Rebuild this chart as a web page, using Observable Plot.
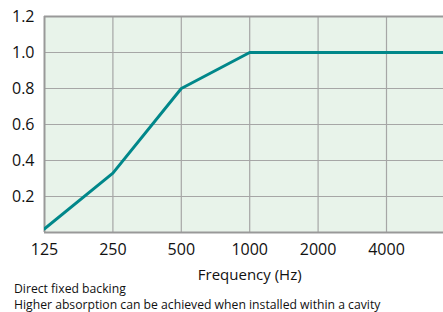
<!DOCTYPE html>
<html>
<head>
<meta charset="utf-8">
<script src="https://cdn.jsdelivr.net/npm/d3@7"></script>
<script src="https://cdn.jsdelivr.net/npm/@observablehq/plot@0.6"></script>
<style>
  html, body { margin: 0; padding: 0; background: white; }
  body { width: 443px; font-family: "Open Sans", sans-serif; }
  #chart svg { display: block; }
  #caption { font-size: 12.2px; line-height: 14px; color: #111; margin-left: 14px; margin-top: -7px; }
  #caption div + div { margin-top: 2px; }
</style>
</head>
<body>
<div id="chart"></div>
<div id="caption">
  <div>Direct fixed backing</div>
  <div>Higher absorption can be achieved when installed within a cavity</div>
</div>
<script>
const frequencies = ["125", "250", "500", "1000", "2000", "4000", "8000"];
const absorption = [0.02, 0.33, 0.80, 1.00, 1.00, 1.00, 1.00];
const yTicks = [0.2, 0.4, 0.6, 0.8, 1.0, 1.2];
const xLabel = "Frequency (Hz)";

const data = frequencies.map((f, i) => ({i, f, v: absorption[i]}));
const idx = frequencies.map((f, i) => i);

const width = 443, marginLeft = 44, step = 68.4;
const xMax = (width - marginLeft) / step;

const chart = Plot.plot({
  width,
  height: 289,
  marginLeft,
  marginRight: 0,
  marginTop: 16,
  marginBottom: 57,
  style: {fontFamily: "Open Sans, sans-serif", fontSize: "15px", color: "#111", overflow: "hidden"},
  x: {type: "linear", domain: [0, xMax], axis: null},
  y: {domain: [0, 1.2], axis: null},
  marks: [
    Plot.frame({fill: "#e8f3ea", stroke: null}),
    Plot.ruleY(yTicks.slice(0, -1), {stroke: "#a6a6a6", strokeWidth: 1.2}),
    Plot.ruleX(idx.slice(1), {stroke: "#a6a6a6", strokeWidth: 1.2, clip: true}),
    Plot.ruleY([0, 1.2], {stroke: "#999", strokeWidth: 2}),
    Plot.ruleX([0], {stroke: "#999", strokeWidth: 2}),
    Plot.line(data, {x: "i", y: "v", stroke: "#00878a", strokeWidth: 3, clip: true}),
    Plot.axisY(yTicks, {tickSize: 0, tickPadding: 10, tickFormat: d3.format(".1f"), fontSize: 16, label: null}),
    Plot.text(data.filter(d => d.i <= xMax), {x: "i", text: "f", frameAnchor: "bottom", dy: 17, fontSize: 16, lineAnchor: "middle"}),
    Plot.text([xLabel], {x: () => 3, text: d => d, frameAnchor: "bottom", dy: 43, fontSize: 15, lineAnchor: "middle"})
  ]
});
document.getElementById("chart").appendChild(chart);
</script>
</body>
</html>
